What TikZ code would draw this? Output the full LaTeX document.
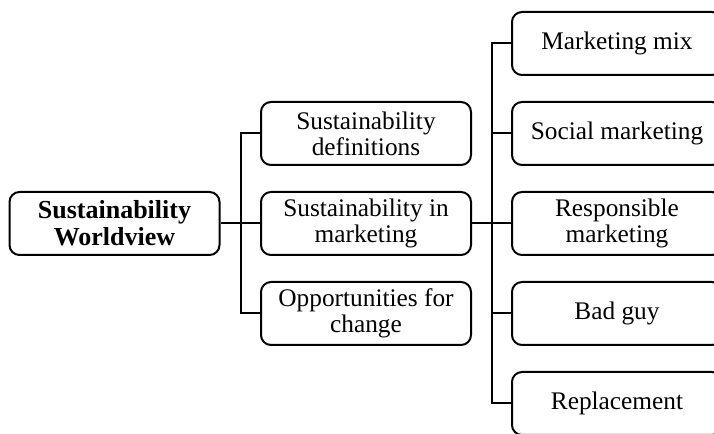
\documentclass[tikz,border=0pt]{standalone}
\usepackage{fontspec}
\setmainfont{Liberation Serif}
\begin{document}
\begin{tikzpicture}[x=0.75pt,y=-0.75pt,
  box/.style={draw,line width=1.5pt,rounded corners=7.5pt,minimum width=157.5pt,minimum height=47.25pt,inner sep=2pt,align=center,font=\fontsize{19}{19.5}\selectfont},
  conn/.style={line width=1.5pt}]
\clip (0,0) rectangle (714,434);
\fill[white] (0,0) rectangle (714,434);
\node[box,font=\fontsize{19.5}{20.5}\selectfont\bfseries] (root) at (114.5,223.5) {Sustainability\\Worldview};
\node[box] (m1) at (366,133.5) {Sustainability\\definitions};
\node[box] (m2) at (366,223.5) {Sustainability in\\marketing};
\node[box] (m3) at (366,313.5) {Opportunities for\\change};
\node[box] (r1) at (617,43.5) {Marketing mix};
\node[box] (r2) at (617,133.5) {Social marketing};
\node[box] (r3) at (617,223.5) {Responsible\\marketing};
\node[box] (r4) at (617,313.5) {Bad guy};
\node[box] (r5) at (617,403.5) {Replacement};
\coordinate (j1) at (241,223.5);
\coordinate (j2) at (492,223.5);
\draw[conn] (root.east) -- (m2.west);
\draw[conn] (j1) |- (m1.west);
\draw[conn] (j1) |- (m3.west);
\draw[conn] (m2.east) -- (r3.west);
\draw[conn] (j2) |- (r1.west);
\draw[conn] (j2) |- (r2.west);
\draw[conn] (j2) |- (r4.west);
\draw[conn] (j2) |- (r5.west);
\end{tikzpicture}
\end{document}
